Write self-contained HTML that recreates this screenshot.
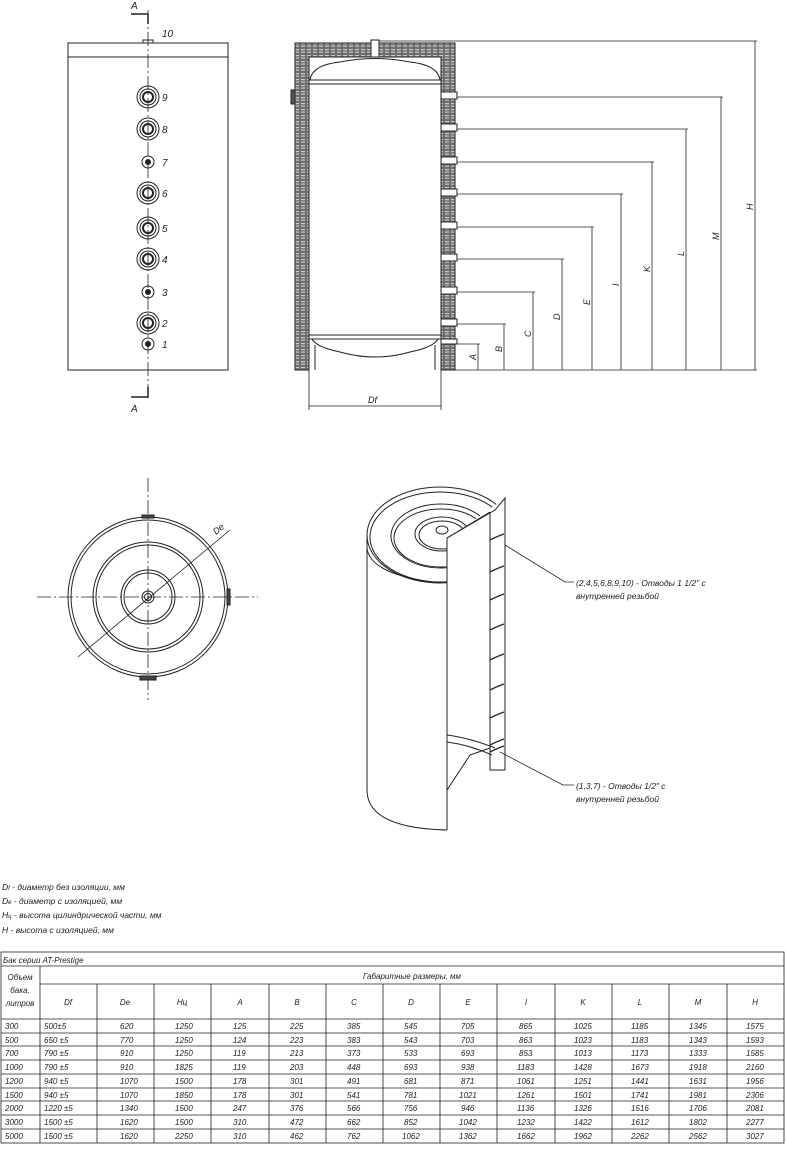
<!DOCTYPE html>
<html><head><meta charset="utf-8"><style>
body{margin:0;background:#fff;width:786px;height:1145px;overflow:hidden}
svg text{font-family:"Liberation Sans","DejaVu Sans",sans-serif;font-style:italic;fill:#222}
</style></head><body>
<svg width="786" height="1145" viewBox="0 0 786 1145" xmlns="http://www.w3.org/2000/svg">
<defs>
<pattern id="ins" width="6" height="6" patternUnits="userSpaceOnUse">
<rect width="6" height="6" fill="#6e6e6e"/><rect x="1" y="1" width="4" height="1.2" fill="#c8c8c8"/><rect x="1" y="3.5" width="4" height="1.2" fill="#c8c8c8"/>
</pattern>
<clipPath id="cut"><polygon points="300,400 505,400 505,498 447,540 447,900 300,900"/></clipPath>
</defs>
<g stroke="#222" fill="none" stroke-width="1">
<!-- LEFT VIEW -->
<rect x="68" y="43" width="160" height="327"/>
<line x1="68" y1="57" x2="228" y2="57"/>
<rect x="143" y="40" width="10" height="3"/>
<line x1="148" y1="10" x2="148" y2="400" stroke-dasharray="14,3,2,3" stroke-width="0.8"/>
<polyline points="131,14 148,14 148,24" stroke-width="1.5"/>
<polyline points="131,397 148,397 148,387" stroke-width="1.5"/>
<g stroke-width="1">
<circle cx="148" cy="97" r="11"/><circle cx="148" cy="97" r="8"/><circle cx="148" cy="97" r="5" stroke-width="2"/>
<circle cx="148" cy="129" r="11"/><circle cx="148" cy="129" r="8"/><circle cx="148" cy="129" r="5" stroke-width="2"/>
<circle cx="148" cy="193" r="11"/><circle cx="148" cy="193" r="8"/><circle cx="148" cy="193" r="5" stroke-width="2"/>
<circle cx="148" cy="228" r="11"/><circle cx="148" cy="228" r="8"/><circle cx="148" cy="228" r="5" stroke-width="2"/>
<circle cx="148" cy="259" r="11"/><circle cx="148" cy="259" r="8"/><circle cx="148" cy="259" r="5" stroke-width="2"/>
<circle cx="148" cy="323" r="11"/><circle cx="148" cy="323" r="8"/><circle cx="148" cy="323" r="5" stroke-width="2"/>
<circle cx="148" cy="162" r="6"/><circle cx="148" cy="162" r="2.5" fill="#222"/>
<circle cx="148" cy="292" r="6"/><circle cx="148" cy="292" r="2.5" fill="#222"/>
<circle cx="148" cy="344" r="6"/><circle cx="148" cy="344" r="2.5" fill="#222"/>
</g>

<!-- SECTION VIEW -->
<path d="M295 43 H455 V370 H441 V57 H309 V370 H295 Z" fill="url(#ins)" stroke="#222"/>
<rect x="371" y="40" width="8" height="17" fill="#fff"/>
<path d="M310 80 Q312 65 340 62 Q375 55 410 62 Q438 65 440 80 Z" fill="#fff"/>
<line x1="309" y1="80" x2="441" y2="80"/><line x1="309" y1="84" x2="441" y2="84"/>
<line x1="309" y1="335" x2="441" y2="335"/><line x1="309" y1="339" x2="441" y2="339"/>
<path d="M312 339 Q316 347 340 352 Q375 362 410 352 Q434 347 438 339"/>
<line x1="315" y1="345" x2="315" y2="370"/><line x1="435" y1="345" x2="435" y2="370"/>
<rect x="291" y="90" width="4" height="14" fill="#555"/>
<g fill="#fff">
<rect x="441" y="92" width="16" height="7"/><rect x="441" y="124" width="16" height="7"/><rect x="441" y="157" width="16" height="7"/><rect x="441" y="189" width="16" height="7"/><rect x="441" y="222" width="16" height="7"/><rect x="441" y="254" width="16" height="7"/><rect x="441" y="287" width="16" height="7"/><rect x="441" y="319" width="16" height="7"/><rect x="441" y="339" width="16" height="5"/>
</g>
<g stroke-width="0.8">
<line x1="379" y1="41" x2="757" y2="41"/>
<line x1="457" y1="97" x2="723" y2="97"/>
<line x1="457" y1="129" x2="688" y2="129"/>
<line x1="457" y1="162" x2="654" y2="162"/>
<line x1="457" y1="194" x2="623" y2="194"/>
<line x1="457" y1="227" x2="594" y2="227"/>
<line x1="457" y1="259" x2="564" y2="259"/>
<line x1="457" y1="292" x2="535" y2="292"/>
<line x1="457" y1="324" x2="506" y2="324"/>
<line x1="457" y1="344" x2="480" y2="344"/>
<line x1="455" y1="370" x2="757" y2="370"/>
<line x1="755" y1="41" x2="755" y2="370"/>
<line x1="721" y1="97" x2="721" y2="370"/>
<line x1="686" y1="129" x2="686" y2="370"/>
<line x1="652" y1="162" x2="652" y2="370"/>
<line x1="621" y1="194" x2="621" y2="370"/>
<line x1="592" y1="227" x2="592" y2="370"/>
<line x1="562" y1="259" x2="562" y2="370"/>
<line x1="533" y1="292" x2="533" y2="370"/>
<line x1="504" y1="324" x2="504" y2="370"/>
<line x1="478" y1="344" x2="478" y2="370"/>
<line x1="309" y1="370" x2="309" y2="410"/><line x1="441" y1="370" x2="441" y2="410"/>
<line x1="309" y1="406" x2="441" y2="406"/>
</g>

<!-- TOP VIEW -->
<g stroke-width="0.8">
<line x1="148" y1="478" x2="148" y2="700" stroke-dasharray="14,3,2,3"/>
<line x1="37" y1="597" x2="258" y2="597" stroke-dasharray="14,3,2,3"/>
<line x1="78" y1="657" x2="230" y2="530"/>
</g>
<circle cx="148" cy="597" r="80"/><circle cx="148" cy="597" r="77"/>
<circle cx="148" cy="597" r="55"/><circle cx="148" cy="597" r="52"/>
<circle cx="148" cy="597" r="27"/><circle cx="148" cy="597" r="24"/>
<circle cx="148" cy="597" r="6"/><circle cx="148" cy="597" r="3.5"/>
<rect x="142" y="515" width="12" height="3" fill="#444"/>
<rect x="227" y="589" width="3" height="16" fill="#444"/>
<rect x="140" y="676" width="16" height="4" fill="#444"/>

<!-- ISO VIEW -->
<g clip-path="url(#cut)">
<ellipse cx="440" cy="535" rx="73" ry="48"/>
<ellipse cx="440" cy="537" rx="70" ry="45"/>
<ellipse cx="441" cy="536" rx="50" ry="32"/>
<ellipse cx="441" cy="538" rx="47" ry="29"/>
<ellipse cx="442" cy="534" rx="27" ry="17"/>
<ellipse cx="442" cy="535" rx="23" ry="14"/>
<path d="M367 535 V548 Q370 575 440 583"/>
</g>
<ellipse cx="442" cy="530" rx="6" ry="4"/>
<path d="M367 535 V790 Q367 828 447 830"/>
<path d="M447 548 V830"/>
<path d="M447 548 L447 538 L495 510 L505 498 V770 H490 V512"/>
<path d="M447 538 L490 512"/>
<g stroke-width="1.3">
<path d="M490 540 q8 -4 14 -6"/><path d="M490 572 q8 -4 14 -6"/><path d="M490 600 q8 -4 14 -6"/><path d="M490 630 q8 -4 14 -6"/><path d="M490 660 q8 -4 14 -6"/><path d="M490 690 q8 -4 14 -6"/><path d="M490 718 q8 -4 14 -6"/><path d="M490 745 q8 -4 14 -6"/><path d="M490 752 q8 -4 14 -6"/>
</g>
<path d="M447 735 Q470 738 495 748"/><path d="M447 742 Q470 745 492 755"/>
<path d="M447 790 L470 755 L490 748"/>
<polyline points="505,545 565,582 574,582" stroke-width="0.8"/>
<polyline points="500,752 563,785 574,785" stroke-width="0.8"/>

<!-- TABLE -->
<g stroke-width="0.8">
<rect x="1" y="952" width="783" height="191"/>
<line x1="1" y1="966" x2="784" y2="966"/>
<line x1="40" y1="984" x2="784" y2="984"/>
<line x1="1" y1="1019" x2="784" y2="1019"/>
<line x1="1" y1="1033" x2="784" y2="1033"/><line x1="1" y1="1046" x2="784" y2="1046"/><line x1="1" y1="1060" x2="784" y2="1060"/><line x1="1" y1="1074" x2="784" y2="1074"/><line x1="1" y1="1088" x2="784" y2="1088"/><line x1="1" y1="1101" x2="784" y2="1101"/><line x1="1" y1="1115" x2="784" y2="1115"/><line x1="1" y1="1129" x2="784" y2="1129"/>
<line x1="40" y1="966" x2="40" y2="1143"/>
<line x1="97" y1="984" x2="97" y2="1143"/><line x1="154" y1="984" x2="154" y2="1143"/><line x1="211" y1="984" x2="211" y2="1143"/><line x1="269" y1="984" x2="269" y2="1143"/><line x1="326" y1="984" x2="326" y2="1143"/><line x1="383" y1="984" x2="383" y2="1143"/><line x1="440" y1="984" x2="440" y2="1143"/><line x1="497" y1="984" x2="497" y2="1143"/><line x1="555" y1="984" x2="555" y2="1143"/><line x1="612" y1="984" x2="612" y2="1143"/><line x1="669" y1="984" x2="669" y2="1143"/><line x1="727" y1="984" x2="727" y2="1143"/>
</g>
</g>

<g font-size="10">
<text x="131" y="9">A</text><text x="131" y="412">A</text><text x="162" y="37">10</text>
<text x="162" y="101">9</text><text x="162" y="133">8</text><text x="162" y="166">7</text><text x="162" y="197">6</text><text x="162" y="232">5</text><text x="162" y="263">4</text><text x="162" y="296">3</text><text x="162" y="327">2</text><text x="162" y="348">1</text>
<text x="368" y="403" font-size="9">Df</text>
<g font-size="9">
<text transform="translate(476,360) rotate(-90)">A</text>
<text transform="translate(502,352) rotate(-90)">B</text>
<text transform="translate(531,337) rotate(-90)">C</text>
<text transform="translate(560,320) rotate(-90)">D</text>
<text transform="translate(590,305) rotate(-90)">E</text>
<text transform="translate(619,286) rotate(-90)">I</text>
<text transform="translate(650,272) rotate(-90)">K</text>
<text transform="translate(684,256) rotate(-90)">L</text>
<text transform="translate(719,240) rotate(-90)">M</text>
<text transform="translate(753,210) rotate(-90)">H</text>
<text transform="translate(216,535) rotate(-40)">De</text>
</g>
<g font-size="8.5">
<text x="576" y="586">(2,4,5,6,8,9,10) - Отводы  1 1/2"  с</text>
<text x="576" y="599">внутренней резьбой</text>
<text x="576" y="789">(1,3,7)  - Отводы  1/2"  с</text>
<text x="576" y="802">внутренней резьбой</text>
<text x="2" y="890">D<tspan font-size="6">f</tspan> - диаметр без изоляции, мм</text>
<text x="2" y="904">D<tspan font-size="6">e</tspan> - диаметр с изоляцией, мм</text>
<text x="2" y="918">H<tspan font-size="6">ц</tspan> - высота цилиндрической части, мм</text>
<text x="2" y="933">H -  высота с изоляцией, мм</text>
</g>
<g font-size="8">
<text x="3" y="963">Бак серии  AT-Prestige</text>
<text x="412" y="979" text-anchor="middle">Габаритные размеры, мм</text>
<text x="20" y="980" text-anchor="middle">Объем</text><text x="20" y="993" text-anchor="middle">бака,</text><text x="20" y="1006" text-anchor="middle">литров</text>
<g text-anchor="middle">
<text x="68" y="1005">Df</text><text x="125" y="1005">De</text><text x="182" y="1005">Hц</text><text x="240" y="1005">A</text><text x="297" y="1005">B</text><text x="354" y="1005">C</text><text x="411" y="1005">D</text><text x="468" y="1005">E</text><text x="526" y="1005">I</text><text x="583" y="1005">K</text><text x="640" y="1005">L</text><text x="698" y="1005">M</text><text x="755" y="1005">H</text>
</g>
<text x="5" y="1029">300</text><text x="5" y="1043">500</text><text x="5" y="1056">700</text><text x="5" y="1070">1000</text><text x="5" y="1084">1200</text><text x="5" y="1098">1500</text><text x="5" y="1111">2000</text><text x="5" y="1125">3000</text><text x="5" y="1139">5000</text>
<text x="44" y="1029">500±5</text><text x="44" y="1043">650 ±5</text><text x="44" y="1056">790 ±5</text><text x="44" y="1070">790 ±5</text><text x="44" y="1084">940 ±5</text><text x="44" y="1098">940 ±5</text><text x="44" y="1111">1220 ±5</text><text x="44" y="1125">1500 ±5</text><text x="44" y="1139">1500 ±5</text>
<text x="120" y="1029">620</text><text x="120" y="1043">770</text><text x="120" y="1056">910</text><text x="120" y="1070">910</text><text x="120" y="1084">1070</text><text x="120" y="1098">1070</text><text x="120" y="1111">1340</text><text x="120" y="1125">1620</text><text x="120" y="1139">1620</text>
<text x="175" y="1029">1250</text><text x="175" y="1043">1250</text><text x="175" y="1056">1250</text><text x="175" y="1070">1825</text><text x="175" y="1084">1500</text><text x="175" y="1098">1850</text><text x="175" y="1111">1500</text><text x="175" y="1125">1500</text><text x="175" y="1139">2250</text>
<text x="233" y="1029">125</text><text x="233" y="1043">124</text><text x="233" y="1056">119</text><text x="233" y="1070">119</text><text x="233" y="1084">178</text><text x="233" y="1098">178</text><text x="233" y="1111">247</text><text x="233" y="1125">310</text><text x="233" y="1139">310</text>
<text x="290" y="1029">225</text><text x="290" y="1043">223</text><text x="290" y="1056">213</text><text x="290" y="1070">203</text><text x="290" y="1084">301</text><text x="290" y="1098">301</text><text x="290" y="1111">376</text><text x="290" y="1125">472</text><text x="290" y="1139">462</text>
<text x="347" y="1029">385</text><text x="347" y="1043">383</text><text x="347" y="1056">373</text><text x="347" y="1070">448</text><text x="347" y="1084">491</text><text x="347" y="1098">541</text><text x="347" y="1111">566</text><text x="347" y="1125">662</text><text x="347" y="1139">762</text>
<text x="404" y="1029">545</text><text x="404" y="1043">543</text><text x="404" y="1056">533</text><text x="404" y="1070">693</text><text x="404" y="1084">681</text><text x="404" y="1098">781</text><text x="404" y="1111">756</text><text x="404" y="1125">852</text><text x="402" y="1139">1062</text>
<text x="461" y="1029">705</text><text x="461" y="1043">703</text><text x="461" y="1056">693</text><text x="461" y="1070">938</text><text x="461" y="1084">871</text><text x="459" y="1098">1021</text><text x="461" y="1111">946</text><text x="459" y="1125">1042</text><text x="459" y="1139">1362</text>
<text x="519" y="1029">865</text><text x="519" y="1043">863</text><text x="519" y="1056">853</text><text x="517" y="1070">1183</text><text x="517" y="1084">1061</text><text x="517" y="1098">1261</text><text x="517" y="1111">1136</text><text x="517" y="1125">1232</text><text x="517" y="1139">1662</text>
<text x="574" y="1029">1025</text><text x="574" y="1043">1023</text><text x="574" y="1056">1013</text><text x="574" y="1070">1428</text><text x="574" y="1084">1251</text><text x="574" y="1098">1501</text><text x="574" y="1111">1326</text><text x="574" y="1125">1422</text><text x="574" y="1139">1962</text>
<text x="631" y="1029">1185</text><text x="631" y="1043">1183</text><text x="631" y="1056">1173</text><text x="631" y="1070">1673</text><text x="631" y="1084">1441</text><text x="631" y="1098">1741</text><text x="631" y="1111">1516</text><text x="631" y="1125">1612</text><text x="631" y="1139">2262</text>
<text x="689" y="1029">1345</text><text x="689" y="1043">1343</text><text x="689" y="1056">1333</text><text x="689" y="1070">1918</text><text x="689" y="1084">1631</text><text x="689" y="1098">1981</text><text x="689" y="1111">1706</text><text x="689" y="1125">1802</text><text x="689" y="1139">2562</text>
<text x="746" y="1029">1575</text><text x="746" y="1043">1593</text><text x="746" y="1056">1585</text><text x="746" y="1070">2160</text><text x="746" y="1084">1956</text><text x="746" y="1098">2306</text><text x="746" y="1111">2081</text><text x="746" y="1125">2277</text><text x="746" y="1139">3027</text>
</g>
</g>
</svg>
</body></html>
